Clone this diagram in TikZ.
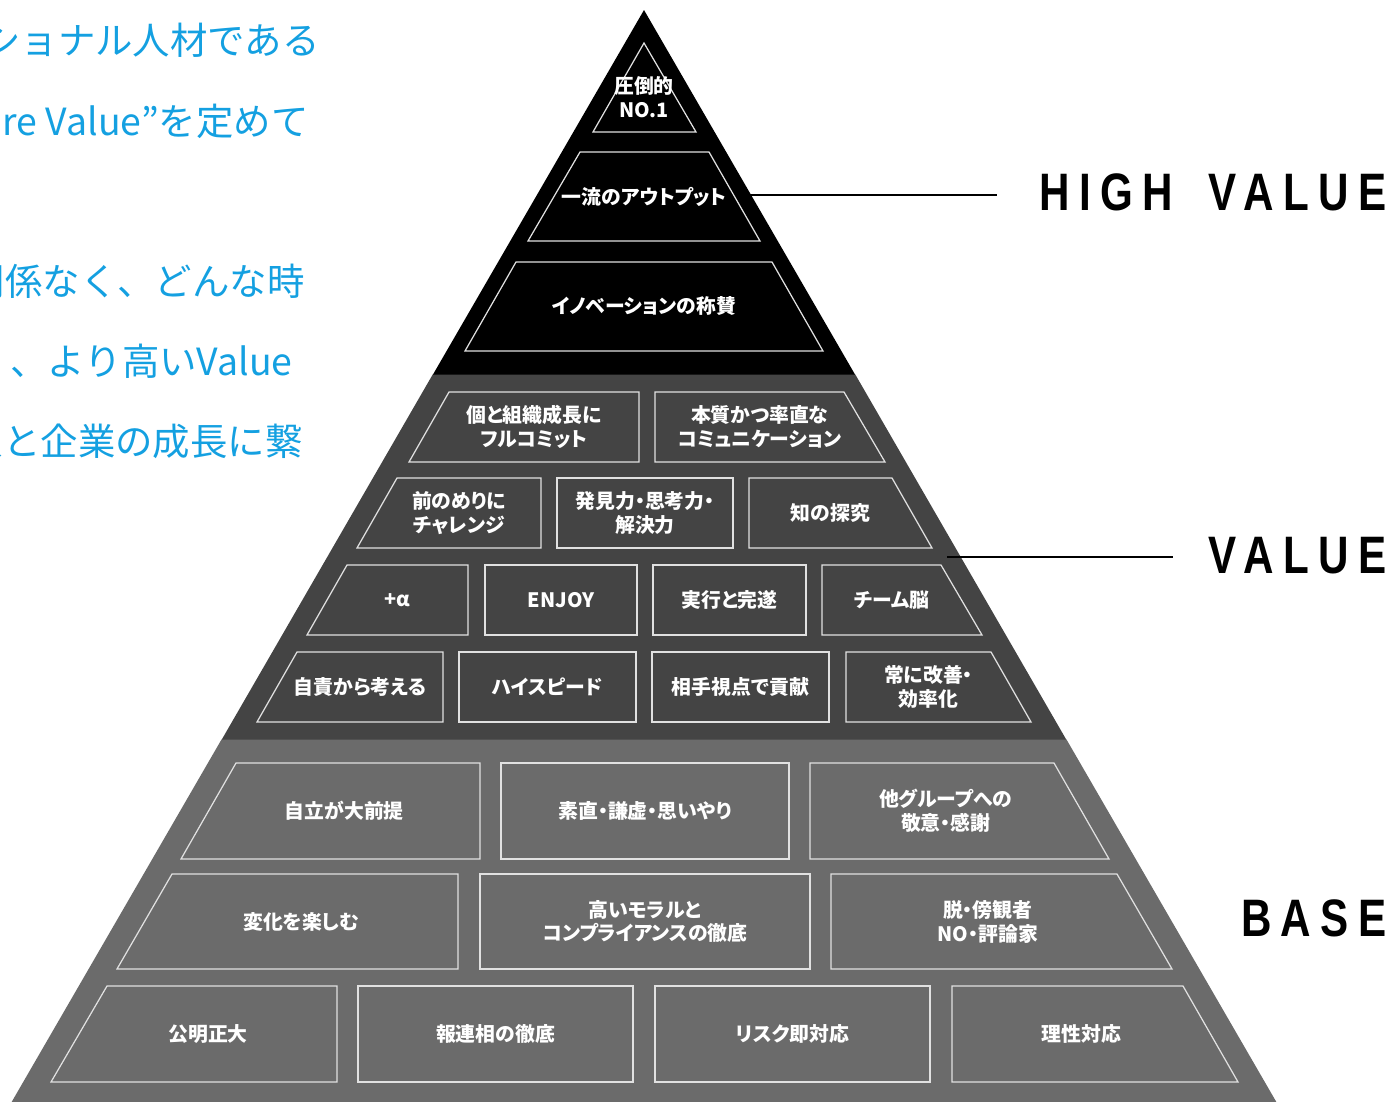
\documentclass[tikz,border=0pt]{standalone}
\usepackage{fontspec}
\newfontfamily\jpfont[RawFeature=+palt]{Noto Sans CJK JP}
\newfontfamily\leadfont{Noto Sans CJK JP}
\newfontfamily\labelfont[FakeStretch=0.8,LetterSpace=18]{Liberation Sans}

\definecolor{pyrdark}{RGB}{68,68,68}
\definecolor{pyrgray}{RGB}{107,107,107}
\definecolor{edgegray}{RGB}{225,225,225}
\definecolor{leadblue}{RGB}{20,160,225}

\tikzset{
  boxedge/.style={draw=edgegray, line width=0.7pt},
  boxtext/.style={text=white, font=\jpfont\bfseries\fontsize{11.3}{13.6}\selectfont, align=center, inner sep=0pt},
  leadtext/.style={text=leadblue, font=\leadfont\fontsize{21.3}{25}\selectfont, anchor=east, inner sep=0pt},
  levellabel/.style={font=\labelfont\bfseries\fontsize{30}{36}\selectfont, anchor=east, inner sep=0pt},
  levelline/.style={line width=1.2pt},
}

\begin{document}
\begin{tikzpicture}[x=0.02cm,y=-0.02cm]
\useasboundingbox (0,0) rectangle (1390,1102);
\clip (0,0) rectangle (1390,1102);

% Lead text on the left (cut by the page edge)
\foreach \y/\xe/\txt [count=\i] in {40/320/{ショナル人材である}, 121/309/{re Value”を定めて},
    281/305/{関係なく、どんな時}, 361/293/{、より高いValue}, 441/303/{人と企業の成長に繋}} {
  \node[leadtext] (lead\i) at (\xe,\y) {\txt};
}

% Pyramid bands
\fill[black] (644,10) -- (855.3,375) -- (432.7,375) -- cycle;
\fill[pyrdark] (432.7,374.5) -- (855.3,374.5) -- (1066.5,740) -- (221.5,740) -- cycle;
\fill[pyrgray] (221.5,739.5) -- (1066.5,739.5) -- (1281,1110) -- (7,1110) -- cycle;

% Top band (HIGH VALUE)
\draw[boxedge] (644,43) -- (696,132) -- (593,132) -- cycle;
\node[boxtext] (no1) at (644,97) {圧倒的\\NO.1};

% Boxes: name/top/bottom/top-left/bottom-left/top-right/bottom-right/text
\foreach \nm/\yt/\yb/\tl/\bl/\tr/\br/\txt in {
  output/152/241/580/528/709/760/{一流のアウトプット},
  innov/262/351/516/465/772/823/{イノベーションの称賛},
  % VALUE band
  commit/392/462/449/409/639/639/{個と組織成長に\\フルコミット},
  frank/392/462/655/655/844/885/{本質かつ率直な\\コミュニケーション},
  challenge/478/548/397/357/541/541/{前のめりに\\チャレンジ},
  discover/478/548/557/557/733/733/{発見力・思考力・\\解決力},
  explore/478/548/749/749/892/932/{知の探究},
  alpha/565/635/347/307/468/468/{+α},
  enjoy/565/635/485/485/637/637/{ENJOY},
  execute/565/635/653/653/806/806/{実行と完遂},
  team/565/635/822/822/941/982/{チーム脳},
  ownership/652/722/297/257/443/443/{自責から考える},
  speed/652/722/459/459/636/636/{ハイスピード},
  partner/652/722/652/652/829/829/{相手視点で貢献},
  improve/652/722/846/846/991/1031/{常に改善・\\効率化},
  % BASE band
  selfstand/763/859/236/181/480/480/{自立が大前提},
  honest/763/859/501/501/789/789/{素直・謙虚・思いやり},
  respect/763/859/810/810/1054/1109/{他グループへの\\敬意・感謝},
  change/874/969/172/117/458/458/{変化を楽しむ},
  moral/874/969/480/480/810/810/{高いモラルと\\コンプライアンスの徹底},
  bystander/874/969/831/831/1117/1172/{脱・傍観者\\NO・評論家},
  fair/986/1082/107/51/337/337/{公明正大},
  report/986/1082/358/358/633/633/{報連相の徹底},
  risk/986/1082/655/655/930/930/{リスク即対応},
  reason/986/1082/952/952/1183/1238/{理性対応}} {
  \draw[boxedge] (\tl,\yt) -- (\tr,\yt) -- (\br,\yb) -- (\bl,\yb) -- cycle;
  \node[boxtext] (\nm) at ({(\tl+\bl+\tr+\br)/4},{(\yt+\yb)/2}) {\txt};
}

% Level labels
\coordinate (highvalue-tip) at (750,195);
\coordinate (highvalue-end) at (997,195);
\draw[levelline] (highvalue-tip) -- (highvalue-end);
\node[levellabel] (highvalue) at (1387,192) {HIGH\hspace{0.68em}VALUE};

\coordinate (value-tip) at (947,557);
\coordinate (value-end) at (1173,557);
\draw[levelline] (value-tip) -- (value-end);
\node[levellabel] (value) at (1387,556) {VALUE};

\node[levellabel] (base) at (1387,918) {BASE};

\end{tikzpicture}
\end{document}
